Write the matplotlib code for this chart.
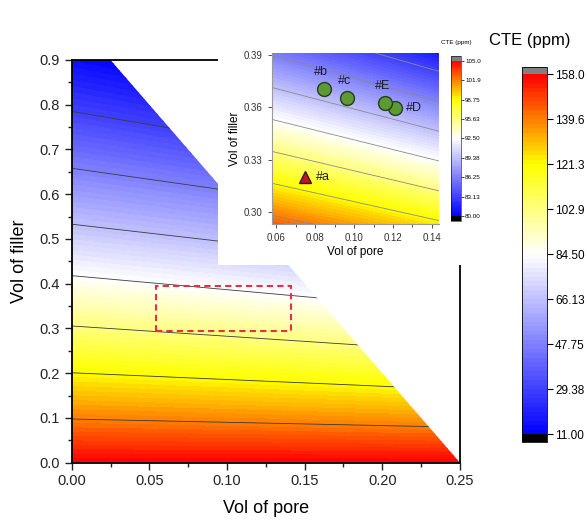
import numpy as np
import matplotlib
matplotlib.use('Agg')
import matplotlib.pyplot as plt
from matplotlib.colors import LinearSegmentedColormap
from matplotlib.patches import Polygon, Rectangle
from matplotlib.ticker import MultipleLocator, FormatStrFormatter

plt.rcParams['font.family'] = ['Liberation Sans', 'DejaVu Sans']

# CTE contour levels and where each one meets the filler axis (pore = 0)
contour_cte = [158.0, 139.6, 121.3, 102.9, 84.5, 66.13, 47.75, 29.38, 11.0]
contour_filler = [0.0, 0.0976, 0.201, 0.3055, 0.418, 0.533, 0.658, 0.785, 0.925]
contour_tilt = 0.75  # contours drop as pore grows

# upper edge of the feasible region
boundary_pore = [0.025, 0.25]
boundary_filler = [0.9, 0.0]

cbar_ticks = [11.0, 29.38, 47.75, 66.13, 84.5, 102.9, 121.3, 139.6, 158.0]
cbar_labels = ['11.00', '29.38', '47.75', '66.13', '84.50', '102.9', '121.3', '139.6', '158.0']
inset_ticks = [80.0, 83.13, 86.25, 89.38, 92.5, 95.63, 98.75, 101.9, 105.0]
inset_labels = ['80.00', '83.13', '86.25', '89.38', '92.50', '95.63', '98.75', '101.9', '105.0']

# measured samples
sample_names = ['#a', '#b', '#c', '#D', '#E']
sample_pore = [0.0745, 0.0846, 0.0965, 0.1208, 0.1161]
sample_filler = [0.3204, 0.3705, 0.3652, 0.3595, 0.3627]

# zoomed window
zoom_pore = (0.054, 0.1415)
zoom_filler = (0.294, 0.395)
inset_pore = (0.0576, 0.1437)
inset_filler = (0.2931, 0.3913)


def cte(p, f):
    u = f / (1 - contour_tilt * p)
    return np.interp(u, contour_filler, contour_cte)


cmap = LinearSegmentedColormap.from_list(
    'cte', [(0, '#0000ff'), (0.5, '#ffffff'), (0.75, '#ffff00'), (1, '#ff0000')])
cmap.set_over('#808080')
cmap.set_under('#000000')

fig = plt.figure(figsize=(5.87, 5.24), dpi=100)

# main map
ax = fig.add_axes([0.1221, 0.117, 0.6615, 0.7685])
P, F = np.meshgrid(np.linspace(0, 0.25, 300), np.linspace(0, 0.9, 400))
Z = cte(P, F)
levels = np.linspace(11, 158, 81)
region = Polygon([(0, 0), (boundary_pore[1], boundary_filler[1]),
                  (boundary_pore[0], boundary_filler[0]), (0, 0.9)],
                 closed=True, transform=ax.transData)
cf = ax.contourf(P, F, Z, levels=levels, cmap=cmap, extend='both')
cf.set_clip_path(region)
cl = ax.contour(P, F, Z, levels=sorted(contour_cte[1:-1]), colors='#3a3a3a', linewidths=0.6)
cl.set_clip_path(region)

ax.add_patch(Rectangle((zoom_pore[0], zoom_filler[0]), zoom_pore[1] - zoom_pore[0],
                       zoom_filler[1] - zoom_filler[0], fill=False, ec='#e0304a',
                       lw=1.5, ls=(0, (3, 2)), zorder=5))

ax.set_xlim(0, 0.25)
ax.set_ylim(0, 0.9)
ax.xaxis.set_major_locator(MultipleLocator(0.05))
ax.xaxis.set_minor_locator(MultipleLocator(0.025))
ax.yaxis.set_major_locator(MultipleLocator(0.1))
ax.yaxis.set_minor_locator(MultipleLocator(0.05))
ax.xaxis.set_major_formatter(FormatStrFormatter('%.2f'))
ax.yaxis.set_major_formatter(FormatStrFormatter('%.1f'))
ax.tick_params(which='both', direction='out', labelsize=10.5, width=1, colors='#222222')
ax.tick_params(which='major', length=5)
ax.tick_params(which='minor', length=3)
for s in ax.spines.values():
    s.set_linewidth(1.3)
ax.set_xlabel('Vol of pore', fontsize=13, labelpad=8)
ax.set_ylabel('Vol of filler', fontsize=13, labelpad=8)

# white card behind the inset
bg = fig.add_axes([0.3714, 0.4943, 0.4549, 0.4714])
bg.set_facecolor('white')
bg.set_xticks([])
bg.set_yticks([])
for s in bg.spines.values():
    s.set_visible(False)

# inset
ax2 = fig.add_axes([0.4629, 0.572, 0.285, 0.3275])
P2, F2 = np.meshgrid(np.linspace(inset_pore[0], inset_pore[1], 200),
                     np.linspace(inset_filler[0], inset_filler[1], 200))
Z2 = cte(P2, F2)
levels2 = np.linspace(80, 105, 81)
cf2 = ax2.contourf(P2, F2, Z2, levels=levels2, cmap=cmap, extend='both')
ax2.contour(P2, F2, Z2, levels=inset_ticks[1:-1], colors='#8a8a8a', linewidths=0.6)

for name, p, f in zip(sample_names, sample_pore, sample_filler):
    if name == '#a':
        ax2.plot(p, f, marker='^', ms=9, mfc='#c8102e', mec='#3a1a10', mew=1, zorder=5)
    else:
        ax2.plot(p, f, marker='o', ms=10, mfc='#5b9b32', mec='#2a3a1a', mew=1, zorder=5)
    if name in ('#a', '#D'):
        ax2.annotate(name, (p, f), xytext=(8, 0), textcoords='offset points',
                     ha='left', va='center', fontsize=9, color='#1a1a2a')
    else:
        ax2.annotate(name, (p, f), xytext=(-2, 8), textcoords='offset points',
                     ha='center', va='bottom', fontsize=9, color='#1a1a2a')

ax2.set_xlim(inset_pore)
ax2.set_ylim(inset_filler)
ax2.set_xticks([0.06, 0.08, 0.10, 0.12, 0.14])
ax2.set_yticks([0.30, 0.33, 0.36, 0.39])
ax2.xaxis.set_minor_locator(MultipleLocator(0.01))
ax2.xaxis.set_major_formatter(FormatStrFormatter('%.2f'))
ax2.yaxis.set_major_formatter(FormatStrFormatter('%.2f'))
ax2.tick_params(which='both', direction='out', labelsize=7, colors='#333333', width=0.6)
ax2.tick_params(which='major', length=3)
ax2.tick_params(which='minor', length=2)
ax2.spines['top'].set_visible(False)
ax2.spines['right'].set_visible(False)
for s in ('left', 'bottom'):
    ax2.spines[s].set_color('#999999')
    ax2.spines[s].set_linewidth(0.8)
ax2.set_xlabel('Vol of pore', fontsize=8.5, labelpad=2)
ax2.set_ylabel('Vol of filler', fontsize=8.5, labelpad=2)

# inset colorbar
cax2 = fig.add_axes([0.7683, 0.5788, 0.017, 0.3143])
cb2 = fig.colorbar(cf2, cax=cax2, extendrect=True, extendfrac=0.03)
cb2.set_ticks(inset_ticks)
cb2.set_ticklabels(inset_labels)
cb2.ax.tick_params(labelsize=4.5, length=2, width=0.5, pad=1)
cb2.outline.set_linewidth(0.4)
fig.text(456 / 587, 1 - 43 / 524, 'CTE (ppm)', ha='center', va='center', fontsize=4.5)

# main colorbar
cax = fig.add_axes([0.8898, 0.157, 0.0416, 0.7157])
cb = fig.colorbar(cf, cax=cax, extendrect=True, extendfrac=0.021)
cb.set_ticks(cbar_ticks)
cb.set_ticklabels(cbar_labels)
cb.ax.tick_params(labelsize=8.5, length=4, width=0.8, pad=2)
cb.outline.set_linewidth(0.6)
fig.text(530 / 587, 1 - 40 / 524, 'CTE (ppm)', ha='center', va='center', fontsize=12)

fig.savefig('out.png', dpi=100)
